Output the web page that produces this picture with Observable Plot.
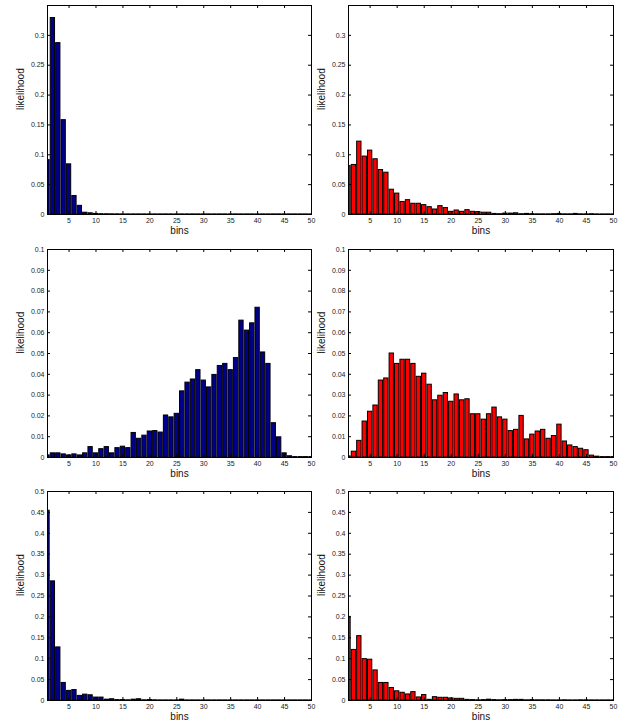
<!DOCTYPE html>
<html>
<head>
<meta charset="utf-8">
<script src="https://cdn.jsdelivr.net/npm/d3@7"></script>
<script src="https://cdn.jsdelivr.net/npm/@observablehq/plot@0.6"></script>
<style>
  body { margin: 0; background: white; }
  #fig { position: relative; width: 629px; height: 725px; background: white; font-family: "Liberation Sans", Arial, sans-serif; }
  #fig svg { position: absolute; }
</style>
</head>
<body>
<div id="fig"></div>
<script>
// ---- data (likelihood per bin, bins 1..50) ----
const bins = d3.range(1, 51);

const topLeft = [0.091, 0.329, 0.287, 0.158, 0.084, 0.031, 0.0145, 0.003, 0.002, 0.001,
  0.0005, 0.0004, 0.0003, 0.0003, 0.0002, 0.0002, 0.0002, 0.0002, 0.0002, 0.0002,
  0.0002, 0.0002, 0.0002, 0.0002, 0.0002, 0.0002, 0.0002, 0.0002, 0.0002, 0.0002,
  0.0002, 0.0002, 0.0002, 0.0002, 0.0002, 0.0002, 0.0002, 0.0002, 0.0002, 0.0002,
  0.0002, 0.0002, 0.0002, 0.0002, 0.0002, 0.0002, 0.0002, 0.0002, 0.0002, 0.0002];

const topRight = [0.081, 0.083, 0.122, 0.097, 0.107, 0.0925, 0.0745, 0.070, 0.0415, 0.035,
  0.021, 0.024, 0.018, 0.018, 0.0157, 0.0123, 0.0084, 0.014, 0.0107, 0.0045,
  0.0067, 0.0045, 0.0073, 0.0045, 0.004, 0.003, 0.003, 0.001, 0.0005, 0.0015,
  0.0015, 0.002, 0.0005, 0.001, 0.0005, 0.0003, 0.0003, 0.0003, 0.0005, 0.001,
  0.0003, 0.0003, 0.001, 0.0003, 0.0003, 0.0005, 0.0002, 0.0002, 0.0002, 0.0002];

const midLeft = [0.001, 0.002, 0.002, 0.0015, 0.001, 0.0015, 0.001, 0.002, 0.005, 0.002,
  0.004, 0.005, 0.002, 0.0045, 0.0052, 0.0045, 0.0118, 0.009, 0.0105, 0.0125,
  0.0127, 0.012, 0.0202, 0.0193, 0.021, 0.0318, 0.036, 0.0375, 0.042, 0.037,
  0.0337, 0.0397, 0.044, 0.045, 0.042, 0.0478, 0.0658, 0.061, 0.0645, 0.072,
  0.0505, 0.045, 0.0165, 0.0097, 0.002, 0.0006, 0.0002, 0.0002, 0.0002, 0.0002];

const midRight = [0.0005, 0.0028, 0.008, 0.0173, 0.022, 0.025, 0.037, 0.038, 0.050, 0.045,
  0.047, 0.047, 0.045, 0.0388, 0.0403, 0.035, 0.0275, 0.0297, 0.031, 0.0268,
  0.0303, 0.0275, 0.028, 0.0208, 0.0208, 0.0182, 0.0208, 0.024, 0.0193, 0.0182,
  0.0127, 0.0133, 0.020, 0.0087, 0.011, 0.0125, 0.0133, 0.009, 0.0103, 0.0158,
  0.0077, 0.0058, 0.005, 0.0042, 0.0035, 0.0009, 0.0004, 0.0002, 0.0002, 0.0002];

const botLeft = [0.454, 0.285, 0.127, 0.042, 0.023, 0.025, 0.011, 0.014, 0.0125, 0.007,
  0.007, 0.002, 0.003, 0.001, 0.001, 0.0005, 0.002, 0.003, 0.0005, 0.001,
  0.0005, 0.0003, 0.0003, 0.0003, 0.0003, 0.002, 0.0003, 0.0003, 0.0003, 0.0003,
  0.0003, 0.0003, 0.0003, 0.0003, 0.0003, 0.0003, 0.0003, 0.0003, 0.0003, 0.0003,
  0.0003, 0.0003, 0.0003, 0.0003, 0.0003, 0.0003, 0.0003, 0.0003, 0.0003, 0.0003];

const botRight = [0.200, 0.121, 0.154, 0.099, 0.0976, 0.072, 0.042, 0.042, 0.030, 0.022,
  0.0185, 0.0145, 0.020, 0.0073, 0.013, 0.0016, 0.008, 0.0065, 0.0065, 0.005,
  0.004, 0.004, 0.0015, 0.001, 0.0005, 0.001, 0.002, 0.001, 0.0005, 0.001,
  0.001, 0.0015, 0.0015, 0.0005, 0.001, 0.0005, 0.0005, 0.0005, 0.0003, 0.0003,
  0.0005, 0.0003, 0.0003, 0.0005, 0.0005, 0.0003, 0.0003, 0.0003, 0.0003, 0.0003];

// ---- ticks ----
const xTicks = [5, 10, 15, 20, 25, 30, 35, 40, 45, 50];
const yTicksTop = [0, 0.05, 0.1, 0.15, 0.2, 0.25, 0.3];
const yTicksMid = [0, 0.01, 0.02, 0.03, 0.04, 0.05, 0.06, 0.07, 0.08, 0.09, 0.1];
const yTicksBot = [0, 0.05, 0.1, 0.15, 0.2, 0.25, 0.3, 0.35, 0.4, 0.45, 0.5];

const BLUE = "#00008a";
const RED = "#ff0000";
const FONT = "Liberation Sans, Arial, sans-serif";

function panel({values, color, yMax, yTicks, left, top, width, height, mL, mR, mT, mB}) {
  const data = bins.map((b, i) => ({bin: b, v: values[i]}));
  const fw = width - mL - mR;
  const fh = height - mT - mB;
  const svg = Plot.plot({
    width, height,
    marginLeft: mL, marginRight: mR, marginTop: mT, marginBottom: mB,
    style: {background: "transparent", overflow: "visible", fontFamily: FONT},
    x: {domain: [1, 50], axis: null},
    y: {domain: [0, yMax], axis: null},
    marks: [
      Plot.rectY(data, {x1: d => d.bin - 0.4, x2: d => d.bin + 0.4, y1: 0, y2: "v",
        fill: color, stroke: "black", strokeWidth: 1, clip: true}),
      // inward ticks on all four sides
      Plot.tickY(yTicks, {y: d => d, insetRight: fw - 3, stroke: "black"}),
      Plot.tickY(yTicks, {y: d => d, insetLeft: fw - 3, stroke: "black"}),
      Plot.tickX(xTicks, {x: d => d, insetTop: fh - 3, stroke: "black"}),
      Plot.tickX(xTicks, {x: d => d, insetBottom: fh - 3, stroke: "black"}),
      Plot.frame({stroke: "black", strokeWidth: 1}),
      // tick labels
      Plot.text(yTicks, {y: d => d, text: d => String(d), frameAnchor: "left", textAnchor: "end",
        dx: -3, fontSize: 7, fill: "#222"}),
      Plot.text(xTicks, {x: d => d, text: d => String(d), frameAnchor: "bottom", dy: 8,
        fontSize: 7, fill: "#222"}),
      // axis labels
      Plot.text(["likelihood"], {text: d => d, frameAnchor: "left", dx: -27, rotate: -90,
        fontSize: 10, fill: "#111"}),
      Plot.text(["bins"], {text: d => d, frameAnchor: "bottom", dy: 19,
        fontSize: 10, fill: "#111"})
    ]
  });
  svg.style.left = left + "px";
  svg.style.top = top + "px";
  document.getElementById("fig").appendChild(svg);
}

const colL = {left: 0, width: 320, mL: 47, mR: 9};
const colR = {left: 305, width: 324, mL: 43, mR: 16};
const rowT = {top: 0, height: 240, mT: 5, mB: 26};
const rowM = {top: 240, height: 240, mT: 9, mB: 23};
const rowB = {top: 480, height: 245, mT: 11, mB: 25};

panel({values: topLeft, color: BLUE, yMax: 0.35, yTicks: yTicksTop, ...colL, ...rowT});
panel({values: topRight, color: RED, yMax: 0.35, yTicks: yTicksTop, ...colR, ...rowT});
panel({values: midLeft, color: BLUE, yMax: 0.1, yTicks: yTicksMid, ...colL, ...rowM});
panel({values: midRight, color: RED, yMax: 0.1, yTicks: yTicksMid, ...colR, ...rowM});
panel({values: botLeft, color: BLUE, yMax: 0.5, yTicks: yTicksBot, ...colL, ...rowB});
panel({values: botRight, color: RED, yMax: 0.5, yTicks: yTicksBot, ...colR, ...rowB});
</script>
</body>
</html>
